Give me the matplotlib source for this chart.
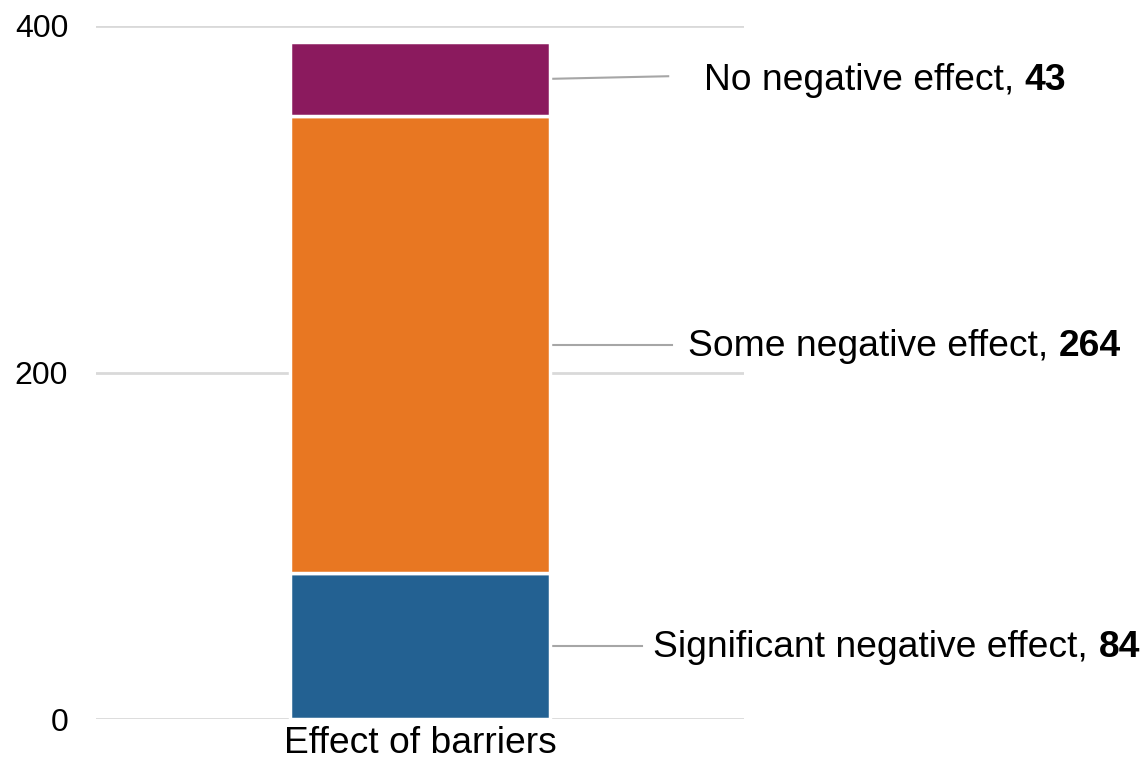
import matplotlib.pyplot as plt

plt.rcParams['font.family'] = ['Liberation Sans', 'DejaVu Sans']

# stacked bar data, bottom to top
category = 'Effect of barriers'
labels = ['Significant negative effect', 'Some negative effect', 'No negative effect']
values = [84, 264, 43]
colors = ['#236192', '#e87722', '#8b1a5e']
yticks = [0, 200, 400]

fig = plt.figure(figsize=(11.42, 7.62), dpi=100)
ax = fig.add_axes([0.084, 0.0564, 0.5675, 0.9095])

bottom = 0
mids = []
for v, c in zip(values, colors):
    ax.bar(0, v, width=0.4, bottom=bottom, color=c, edgecolor='white',
           linewidth=2.5, zorder=3)
    mids.append(bottom + v / 2)
    bottom += v

ax.set_xlim(-0.5, 0.5)
ax.set_ylim(0, 400)
ax.set_yticks(yticks)
ax.set_xticks([0])
ax.set_xticklabels([category])
ax.grid(axis='y', color='#d9d9d9', linewidth=2, zorder=0)
ax.tick_params(axis='both', length=0)
ax.tick_params(axis='y', pad=20, labelsize=23)
ax.tick_params(axis='x', pad=5, labelsize=26.8)
for s in ax.spines.values():
    s.set_visible(False)

# leader lines and labels to the right of the bar
line_end = [0.343, 0.389, 0.383]
text_x = [0.360, 0.414, 0.438]
line_end_y = [mids[0], mids[1], mids[2] + 1.5]
for i, (lab, v) in enumerate(zip(labels, values)):
    ax.plot([0.201, line_end[i]], [mids[i], line_end_y[i]], color='#a6a6a6',
            linewidth=1.5, clip_on=False, zorder=2)
    t = ax.text(text_x[i], mids[i] - 1, lab + ', ', fontsize=26.8, ha='left',
                va='center', clip_on=False)
    ax.annotate(str(v), xy=(1, 0), xycoords=t, fontsize=26.8,
                fontweight='bold', ha='left', va='bottom')

fig.savefig('out.png', dpi=100)
